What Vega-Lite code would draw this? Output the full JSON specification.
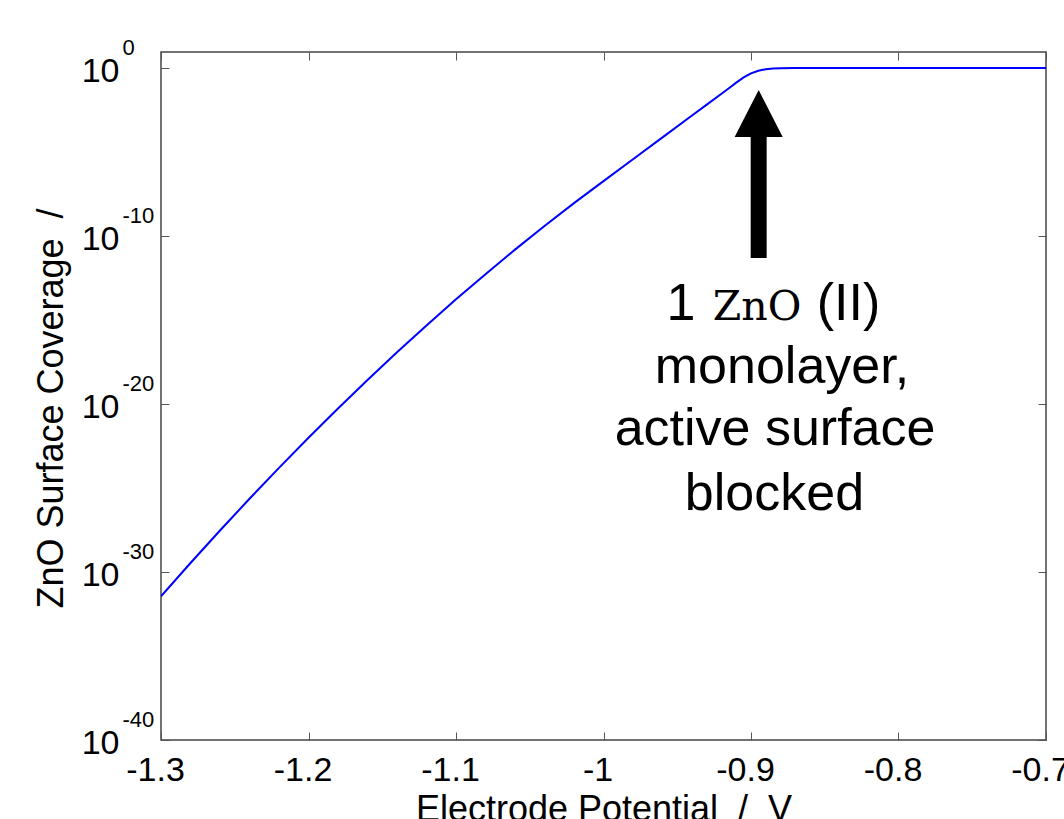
{
  "$schema": "https://vega.github.io/schema/vega-lite/v6.json",
  "width": 885,
  "height": 688,
  "autosize": {"type": "none"},
  "padding": {"left": 161, "top": 52, "right": 18, "bottom": 79},
  "background": "white",
  "config": {
    "view": {"stroke": "#444444", "strokeWidth": 1.5},
    "font": "Liberation Sans",
    "axis": {
      "grid": false,
      "domain": false,
      "labelColor": "black",
      "titleColor": "black",
      "titleFontWeight": "normal",
      "tickColor": "#555555",
      "tickWidth": 1,
      "labelFont": "Liberation Sans",
      "titleFont": "Liberation Sans"
    }
  },
  "datasets": {
    "curve": [
      {"x": -1.30, "y": 3.548e-32},
      {"x": -1.28, "y": 3.42e-30},
      {"x": -1.26, "y": 2.95e-28},
      {"x": -1.24, "y": 2.29e-26},
      {"x": -1.22, "y": 1.585e-24},
      {"x": -1.20, "y": 9.77e-23},
      {"x": -1.18, "y": 5.37e-21},
      {"x": -1.16, "y": 2.69e-19},
      {"x": -1.14, "y": 1.20e-17},
      {"x": -1.12, "y": 4.79e-16},
      {"x": -1.10, "y": 1.70e-14},
      {"x": -1.08, "y": 5.37e-13},
      {"x": -1.06, "y": 1.55e-11},
      {"x": -1.04, "y": 3.98e-10},
      {"x": -1.02, "y": 9.12e-9},
      {"x": -1.00, "y": 1.86e-7},
      {"x": -0.98, "y": 3.72e-6},
      {"x": -0.96, "y": 7.41e-5},
      {"x": -0.94, "y": 1.48e-3},
      {"x": -0.93, "y": 6.61e-3},
      {"x": -0.92, "y": 2.95e-2},
      {"x": -0.915, "y": 6.31e-2},
      {"x": -0.91, "y": 0.135},
      {"x": -0.905, "y": 0.275},
      {"x": -0.90, "y": 0.479},
      {"x": -0.895, "y": 0.692},
      {"x": -0.89, "y": 0.851},
      {"x": -0.885, "y": 0.938},
      {"x": -0.88, "y": 0.977},
      {"x": -0.87, "y": 0.995},
      {"x": -0.86, "y": 1.0},
      {"x": -0.80, "y": 1.0},
      {"x": -0.70, "y": 1.0}
    ],
    "arrow": [
      {"x": -0.8948, "y": 4.9e-7}
    ],
    "sans": [
      {"x": -0.9475, "y": 1e-15, "t": "1"},
      {"x": -0.8339, "y": 1e-15, "t": "(II)"},
      {"x": -0.8790, "y": 1.778e-19, "t": "monolayer,"},
      {"x": -0.8837, "y": 3.63e-23, "t": "active surface"},
      {"x": -0.8841, "y": 4.9e-27, "t": "blocked"}
    ],
    "serif": [
      {"x": -0.8959, "y": 1e-15, "t": "ZnO"}
    ]
  },
  "layer": [
    {
      "data": {"name": "curve"},
      "mark": {"type": "line", "color": "#0000ff", "strokeWidth": 2, "clip": true},
      "encoding": {
        "x": {
          "field": "x", "type": "quantitative",
          "scale": {"domain": [-1.3, -0.7], "nice": false, "zero": false},
          "axis": {
            "orient": "bottom",
            "values": [-1.3, -1.2, -1.1, -1.0, -0.9, -0.8, -0.7],
            "labelExpr": "'' + datum.value",
            "ticks": false,
            "labelFontSize": 34,
            "labelPadding": 13,
            "labelOffset": -6,
            "labelFlush": false,
            "labelOverlap": false,
            "title": "Electrode Potential \u00a0/\u00a0 V",
            "titleFontSize": 36,
            "titleY": 80,
            "titleBaseline": "alphabetic"
          }
        },
        "y": {
          "field": "y", "type": "quantitative",
          "scale": {"type": "log", "domain": [1e-40, 9], "nice": false},
          "axis": {
            "orient": "left",
            "values": [1, 1e-10, 1e-20, 1e-30, 1e-40],
            "labelExpr": "'10'",
            "ticks": false,
            "labelFontSize": 34,
            "labelPadding": 42,
            "labelBaseline": "middle",
            "labelOffset": 3,
            "labelOverlap": false,
            "title": "ZnO Surface Coverage \u00a0/",
            "titleFontSize": 36,
            "titleAngle": -90,
            "titleAlign": "center",
            "titleBaseline": "middle",
            "titleX": -110,
            "titleY": 356
          }
        }
      }
    },
    {
      "data": {"name": "arrow"},
      "mark": {
        "type": "point",
        "shape": "M0,-1L0.286,-0.44L0.095,-0.44L0.095,1L-0.095,1L-0.095,-0.44L-0.286,-0.44Z",
        "size": 28224,
        "filled": true,
        "color": "black",
        "opacity": 1,
        "strokeWidth": 0
      },
      "encoding": {
        "x": {
          "field": "x", "type": "quantitative",
          "scale": {"domain": [-1.3, -0.7], "nice": false, "zero": false},
          "axis": {
            "orient": "top",
            "values": [-1.3, -1.2, -1.1, -1.0, -0.9, -0.8, -0.7],
            "labels": false,
            "ticks": true,
            "tickSize": 8,
            "offset": -8,
            "title": null
          }
        },
        "y": {
          "field": "y", "type": "quantitative",
          "scale": {"type": "log", "domain": [1e-40, 9], "nice": false},
          "axis": {
            "orient": "left",
            "values": [1, 1e-10, 1e-20, 1e-30, 1e-40],
            "labelExpr": "'' + round(log(datum.value) / LN10)",
            "ticks": false,
            "labelFontSize": 22,
            "labelAlign": "left",
            "labelPadding": 39,
            "labelBaseline": "middle",
            "labelOffset": -21,
            "labelOverlap": false,
            "title": null
          }
        }
      }
    },
    {
      "data": {"name": "sans"},
      "mark": {"type": "text", "font": "Liberation Sans", "fontSize": 52, "align": "center", "baseline": "alphabetic", "color": "black"},
      "encoding": {
        "x": {
          "field": "x", "type": "quantitative",
          "scale": {"domain": [-1.3, -0.7], "nice": false, "zero": false},
          "axis": {
            "orient": "bottom",
            "values": [-1.3, -1.2, -1.1, -1.0, -0.9, -0.8, -0.7],
            "labels": false,
            "ticks": true,
            "tickSize": 8,
            "offset": -8,
            "title": null
          }
        },
        "y": {
          "field": "y", "type": "quantitative",
          "scale": {"type": "log", "domain": [1e-40, 9], "nice": false},
          "axis": {
            "orient": "right",
            "values": [1, 1e-10, 1e-20, 1e-30, 1e-40],
            "labels": false,
            "ticks": true,
            "tickSize": 8,
            "offset": -8,
            "title": null
          }
        },
        "text": {"field": "t", "type": "nominal"}
      }
    },
    {
      "data": {"name": "serif"},
      "mark": {"type": "text", "font": "DejaVu Serif", "fontSize": 41, "align": "center", "baseline": "alphabetic", "color": "black"},
      "encoding": {
        "x": {
          "field": "x", "type": "quantitative",
          "scale": {"domain": [-1.3, -0.7], "nice": false, "zero": false},
          "axis": null
        },
        "y": {
          "field": "y", "type": "quantitative",
          "scale": {"type": "log", "domain": [1e-40, 9], "nice": false},
          "axis": {
            "orient": "left",
            "values": [1, 1e-10, 1e-20, 1e-30, 1e-40],
            "labels": false,
            "ticks": true,
            "tickSize": 8,
            "offset": -8,
            "title": null
          }
        },
        "text": {"field": "t", "type": "nominal"}
      }
    }
  ],
  "resolve": {"axis": {"x": "independent", "y": "independent"}}
}
